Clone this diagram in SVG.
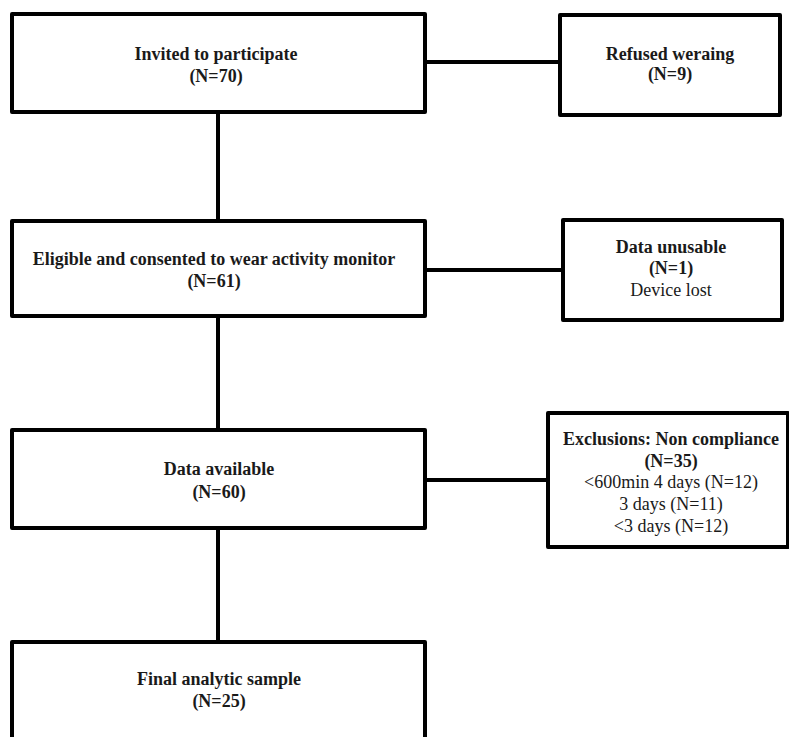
<svg xmlns="http://www.w3.org/2000/svg" width="789" height="737" viewBox="0 0 789 737">
<style>
.box{fill:#fff;stroke:#000;stroke-width:4;stroke-linejoin:round}
.ln{stroke:#000;stroke-width:4;fill:none}
text{font-family:"Liberation Serif","Times New Roman",serif;font-size:18px;fill:#1a1a1a;text-anchor:middle}
.b{font-weight:bold}
</style>
<rect width="789" height="737" fill="#fff"/>
<g id="connectors">
<line class="ln" x1="218" y1="112" x2="218" y2="221"/>
<line class="ln" x1="218" y1="316" x2="218" y2="430"/>
<line class="ln" x1="218" y1="528" x2="218" y2="642"/>
<line class="ln" x1="425" y1="62" x2="560" y2="62"/>
<line class="ln" x1="425" y1="270" x2="563" y2="270"/>
<line class="ln" x1="425" y1="480" x2="548" y2="480"/>
</g>
<g id="invited">
<rect class="box" x="12" y="14" width="413" height="98"/>
<text class="b" x="216" y="60">Invited to participate</text>
<text class="b" x="216" y="82">(N=70)</text>
</g>
<g id="refused">
<rect class="box" x="560" y="15" width="220" height="100"/>
<text class="b" x="670" y="60">Refused weraing</text>
<text class="b" x="670" y="80">(N=9)</text>
</g>
<g id="eligible">
<rect class="box" x="12" y="221" width="413" height="95"/>
<text class="b" x="214" y="265">Eligible and consented to wear activity monitor</text>
<text class="b" x="214" y="287">(N=61)</text>
</g>
<g id="unusable">
<rect class="box" x="563" y="220" width="219" height="100"/>
<text class="b" x="671" y="253">Data unusable</text>
<text class="b" x="671" y="274">(N=1)</text>
<text x="671" y="296">Device lost</text>
</g>
<g id="available">
<rect class="box" x="12" y="430" width="413" height="98"/>
<text class="b" x="219" y="475">Data available</text>
<text class="b" x="219" y="498">(N=60)</text>
</g>
<g id="exclusions">
<rect class="box" x="548" y="413" width="240" height="134"/>
<text class="b" x="671" y="445">Exclusions: Non compliance</text>
<text class="b" x="671" y="467">(N=35)</text>
<text x="671" y="488">&lt;600min 4 days (N=12)</text>
<text x="671" y="510">3 days (N=11)</text>
<text x="671" y="532">&lt;3 days (N=12)</text>
</g>
<g id="final">
<rect class="box" x="12" y="642" width="413" height="120"/>
<text class="b" x="219" y="685">Final analytic sample</text>
<text class="b" x="219" y="707">(N=25)</text>
</g>
</svg>
